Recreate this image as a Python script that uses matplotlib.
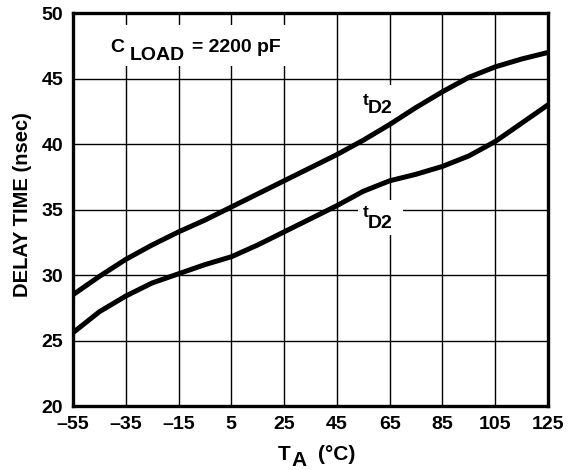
import numpy as np
import matplotlib.pyplot as plt
from matplotlib.patches import Rectangle

plt.rcParams['font.family'] = ['Liberation Sans', 'DejaVu Sans']
plt.rcParams['font.weight'] = 'bold'

# temperature (deg C) and delay times
temp = [-55, -45, -35, -25, -15, -5, 5, 15, 25, 35, 45, 55, 65, 75, 85, 95, 105, 115, 125]
td_upper = [28.5, 29.9, 31.2, 32.3, 33.3, 34.2, 35.2, 36.2, 37.2, 38.2, 39.2,
            40.3, 41.5, 42.8, 44.0, 45.1, 45.9, 46.5, 47.0]
td_lower = [25.6, 27.2, 28.4, 29.4, 30.1, 30.8, 31.4, 32.3, 33.3, 34.3, 35.3,
            36.4, 37.2, 37.7, 38.3, 39.1, 40.2, 41.6, 43.0]

xticks = [-55, -35, -15, 5, 25, 45, 65, 85, 105, 125]
xlabels = ['\u201355', '\u201335', '\u201315', '5', '25', '45', '65', '85', '105', '125']
yticks = [20, 25, 30, 35, 40, 45, 50]

fig = plt.figure(figsize=(5.79, 4.70), dpi=100)
ax = fig.add_axes([0.126, 0.136, 0.8205, 0.836])

ax.plot(temp, td_upper, color='black', lw=3.6, zorder=3)
ax.plot(temp, td_lower, color='black', lw=3.6, zorder=3)

ax.set_xlim(-55, 125)
ax.set_ylim(20, 50)
ax.set_xticks(xticks)
ax.set_xticklabels(xlabels)
ax.set_yticks(yticks)
ax.tick_params(length=0, labelsize=14, pad=7)
ax.grid(True, color='black', lw=1.0)
ax.set_axisbelow(True)
for s in ax.spines.values():
    s.set_linewidth(2.4)
    s.set_zorder(5)

fig.text(0.038, 0.564, 'DELAY TIME (nsec)', fontsize=14.5, fontweight='bold',
         rotation=90, ha='center', va='center')
fig.text(0.480, 0.021, 'T', fontsize=15, fontweight='bold', ha='left', va='baseline')
fig.text(0.504, 0.009, 'A', fontsize=15, fontweight='bold', ha='left', va='baseline')
fig.text(0.549, 0.021, '(\u00b0C)', fontsize=15, fontweight='bold', ha='left', va='baseline')

# white patches behind the annotations (they cut the grid)
for (x0, y0, w, h) in [(-44.8, 46.0, 72.0, 3.1), (53.0, 41.8, 17.0, 2.7), (53.0, 33.05, 17.0, 2.65)]:
    ax.add_patch(Rectangle((x0, y0), w, h, facecolor='white', edgecolor='none', zorder=2))

# C LOAD annotation
ax.text(-41.0, 47.0, 'C', fontsize=14, fontweight='bold', va='baseline', zorder=4)
ax.text(-33.4, 46.4, 'LOAD', fontsize=14, fontweight='bold', va='baseline', zorder=4)
ax.text(-9.9, 47.0, '= 2200 pF', fontsize=14, fontweight='bold', va='baseline', zorder=4)

# curve labels
for (tb, db) in [(43.0, 42.4), (34.4, 33.6)]:
    ax.text(54.9, tb, 't', fontsize=12.5, fontweight='bold', va='baseline', zorder=4)
    ax.text(56.8, db, 'D2', fontsize=14, fontweight='bold', va='baseline', zorder=4)

fig.savefig('out.png', dpi=100)
